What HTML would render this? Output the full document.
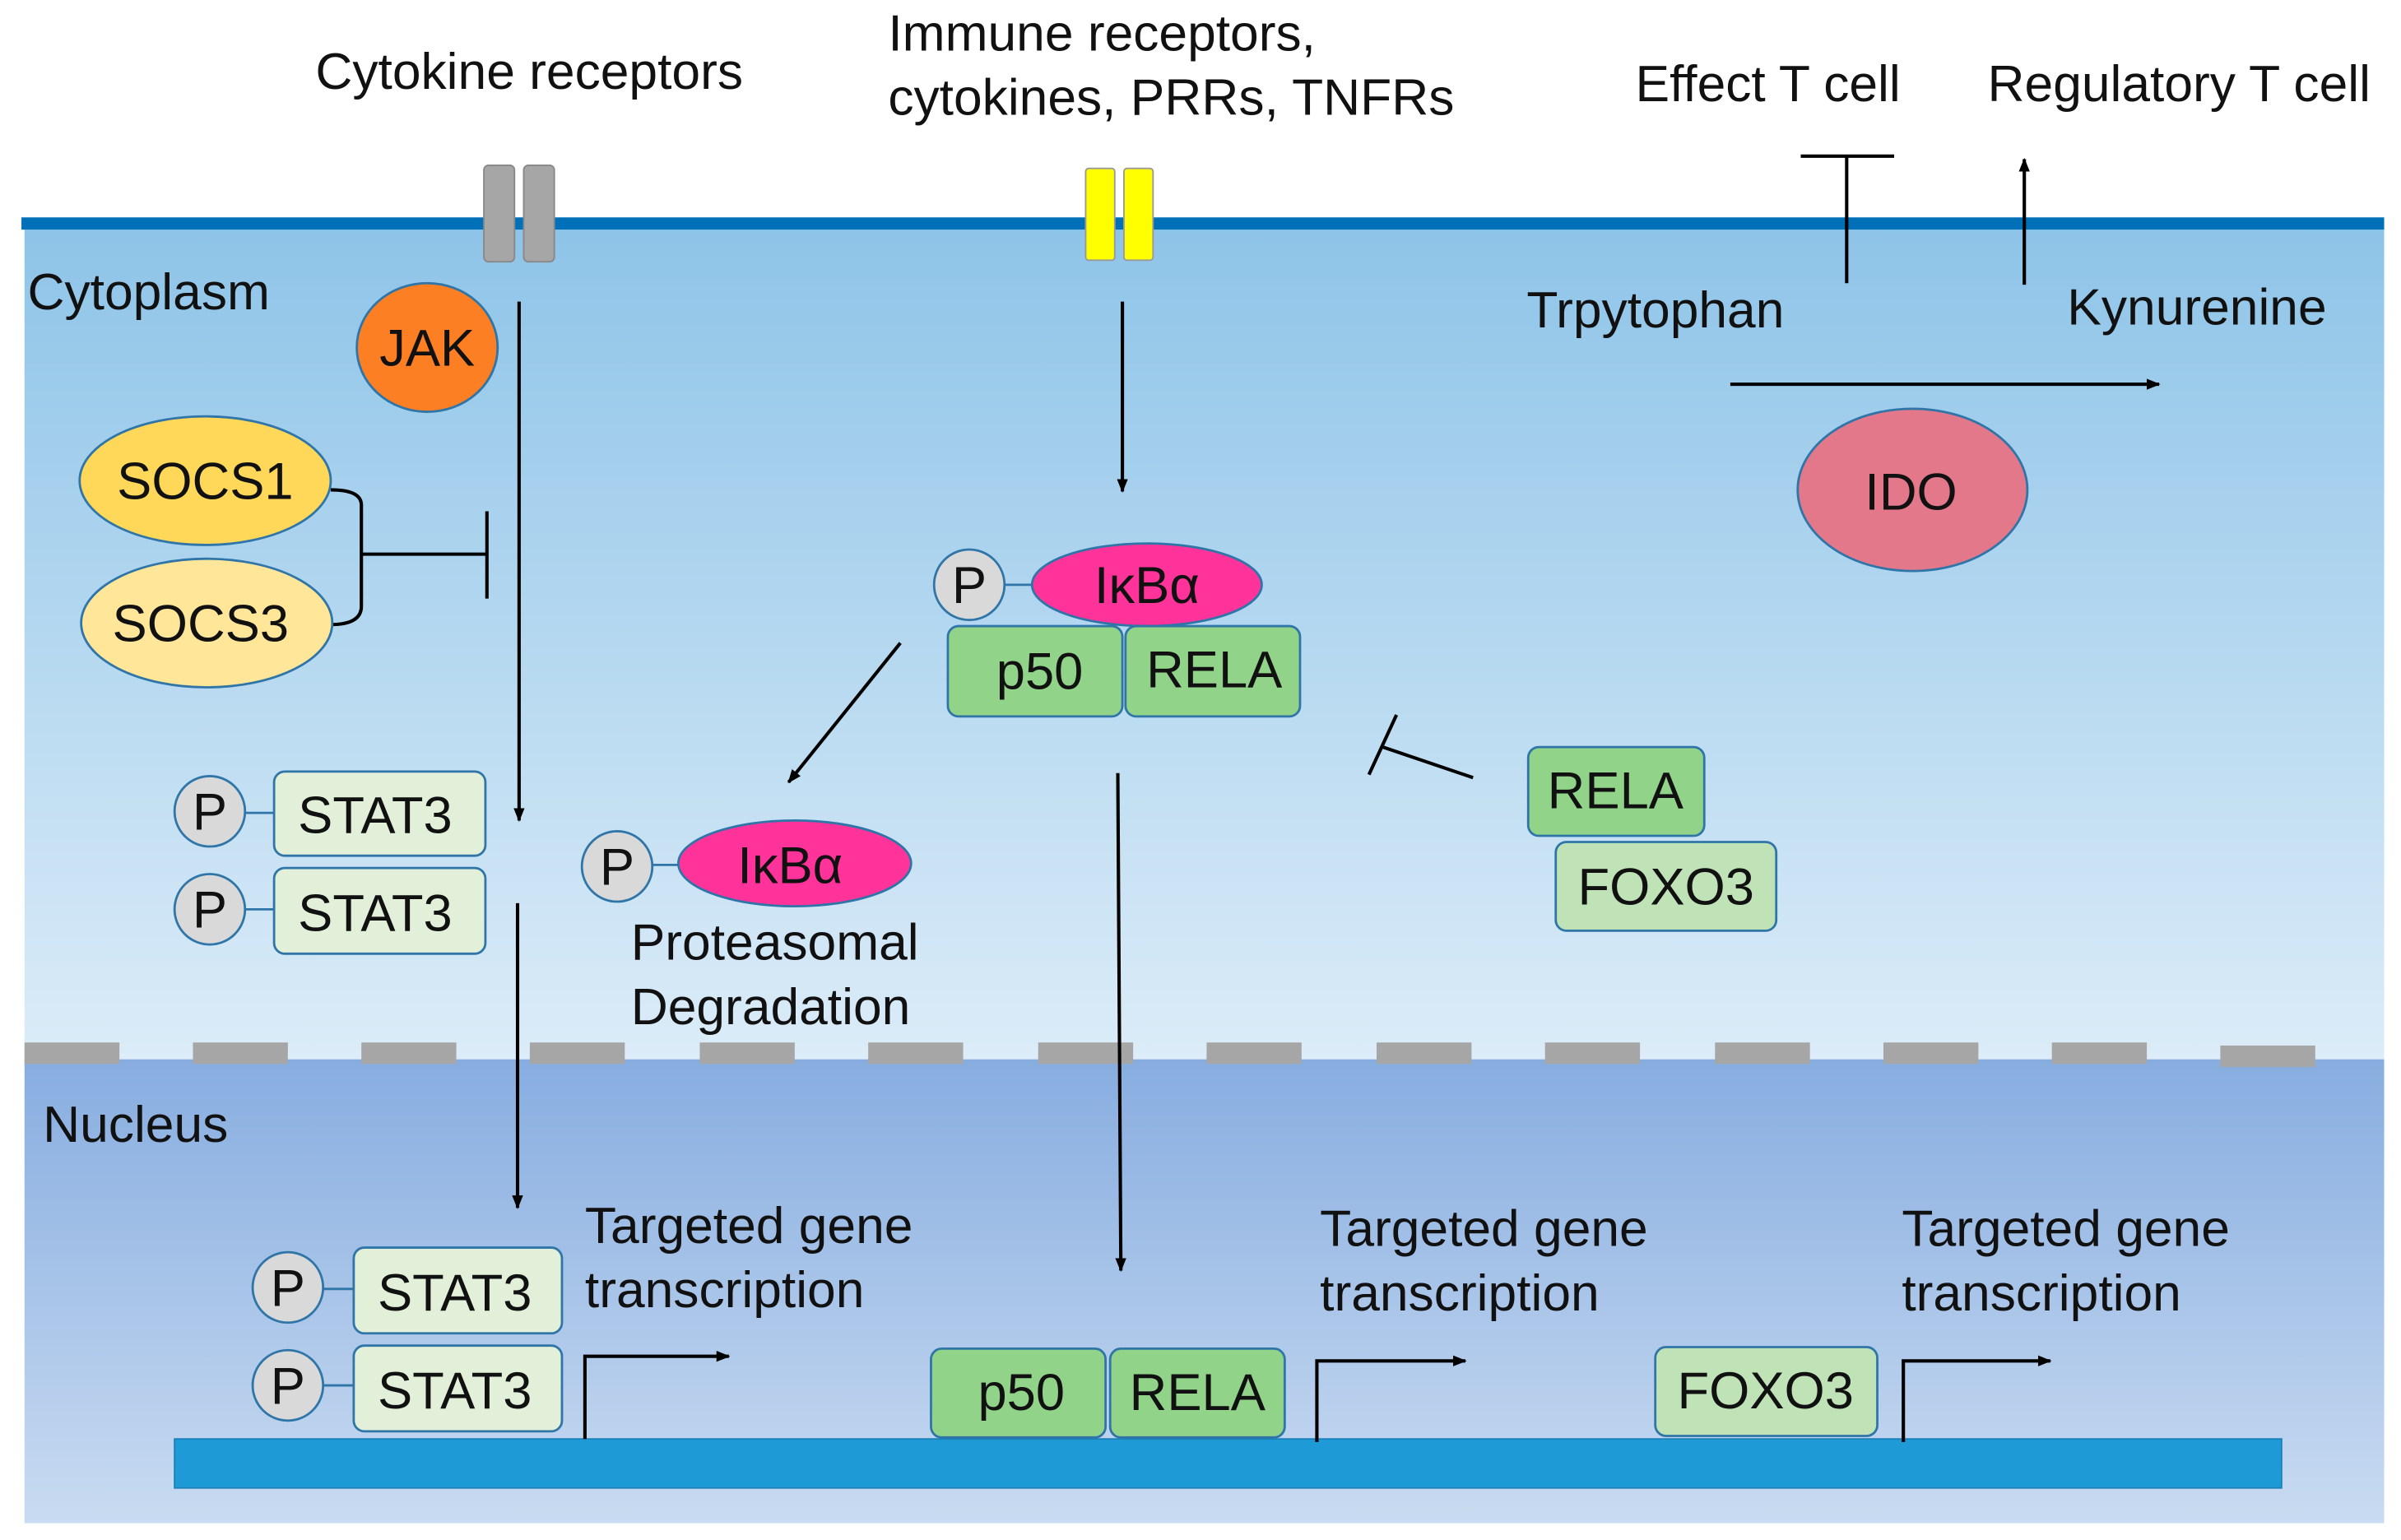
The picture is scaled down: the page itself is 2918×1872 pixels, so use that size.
<!DOCTYPE html>
<html><head><meta charset="utf-8"><style>html,body{margin:0;padding:0;background:#fff}svg{display:block}text{font-family:"Liberation Sans",sans-serif;fill:#111}</style></head>
<body>
<svg width="2918" height="1872" viewBox="0 0 1568 1006" preserveAspectRatio="none" xmlns="http://www.w3.org/2000/svg">
<defs>
<linearGradient id="cy" x1="0" y1="0" x2="0" y2="1"><stop offset="0" stop-color="#8ec4e8"/><stop offset="1" stop-color="#dcecf8"/></linearGradient>
<linearGradient id="nu" x1="0" y1="0" x2="0" y2="1"><stop offset="0" stop-color="#87ade0"/><stop offset="1" stop-color="#c9dbf1"/></linearGradient>
<marker id="ar" viewBox="0 0 10 10" refX="9" refY="5" markerWidth="9" markerHeight="9" markerUnits="userSpaceOnUse" orient="auto"><path d="M0,1 L10,5 L0,9 z" fill="#000"/></marker>
</defs>
<rect x="16" y="150" width="1541" height="542" fill="url(#cy)"/>
<rect x="16" y="692" width="1541" height="303" fill="url(#nu)"/>
<rect x="14" y="142" width="1543" height="8" fill="#0070b8"/>
<g fill="#a6a6a6">
<rect x="16" y="681" width="62" height="14"/><rect x="126" y="681" width="62" height="14"/><rect x="236" y="681" width="62" height="14"/><rect x="346" y="681" width="62" height="14"/><rect x="457" y="681" width="62" height="14"/><rect x="567" y="681" width="62" height="14"/><rect x="678" y="681" width="62" height="14"/><rect x="788" y="681" width="62" height="14"/><rect x="899" y="681" width="62" height="14"/><rect x="1009" y="681" width="62" height="14"/><rect x="1120" y="681" width="62" height="14"/><rect x="1230" y="681" width="62" height="14"/><rect x="1340" y="681" width="62" height="14"/><rect x="1450" y="683" width="62" height="14"/>
</g>
<rect x="114" y="940" width="1376" height="32" fill="#1e9bd7" stroke="#1a80b8"/>
<rect x="316" y="108" width="20" height="63" rx="3" fill="#a6a6a6" stroke="#888"/>
<rect x="342" y="108" width="20" height="63" rx="3" fill="#a6a6a6" stroke="#888"/>
<rect x="709" y="110" width="19" height="60" rx="2" fill="#ffff00" stroke="#999"/>
<rect x="734" y="110" width="19" height="60" rx="2" fill="#ffff00" stroke="#999"/>
<g font-size="33.5">
<text x="206" y="58">Cytokine receptors</text>
<text x="580" y="33">Immune receptors,</text>
<text x="580" y="75">cytokines, PRRs, TNFRs</text>
<text x="1068" y="66">Effect T cell</text>
<text x="1298" y="66">Regulatory T cell</text>
<text x="18" y="202">Cytoplasm</text>
<text x="28" y="746">Nucleus</text>
<text x="997" y="214">Trpytophan</text>
<text x="1350" y="212">Kynurenine</text>
</g>
<g stroke="#000" stroke-width="2.2" fill="none">
<line x1="1176" y1="102" x2="1237" y2="102"/><line x1="1206" y1="102" x2="1206" y2="185"/>
<line x1="1322" y1="186" x2="1322" y2="104" marker-end="url(#ar)"/>
<line x1="1130" y1="251" x2="1410" y2="251" marker-end="url(#ar)"/>
<line x1="339" y1="197" x2="339" y2="536" marker-end="url(#ar)"/>
<path d="M216,320 Q236,320 236,330 L236,396 Q236,408 216,408"/>
<path d="M236,362 L318,362"/><line x1="318" y1="334" x2="318" y2="391"/>
<line x1="733" y1="197" x2="733" y2="321" marker-end="url(#ar)"/>
<line x1="588" y1="420" x2="515" y2="511" marker-end="url(#ar)"/>
<line x1="962" y1="508" x2="903" y2="488"/><line x1="894" y1="506" x2="912" y2="467"/>
<line x1="338" y1="590" x2="338" y2="789" marker-end="url(#ar)"/>
<line x1="730" y1="505" x2="732" y2="830" marker-end="url(#ar)"/>
<path d="M382,940 L382,886 L476,886" marker-end="url(#ar)"/>
<path d="M860,942 L860,889 L957,889" marker-end="url(#ar)"/>
<path d="M1243,942 L1243,889 L1339,889" marker-end="url(#ar)"/>
</g>
<ellipse cx="279" cy="227" rx="46" ry="42" fill="#fd7f24" stroke="#2f75a8" stroke-width="1.5"/>
<ellipse cx="134" cy="314" rx="82" ry="42" fill="#ffd85a" stroke="#2f75a8" stroke-width="1.5"/>
<ellipse cx="135" cy="407" rx="82" ry="42" fill="#ffe699" stroke="#2f75a8" stroke-width="1.5"/>
<g stroke="#2f75a8" stroke-width="1.5">
<line x1="158" y1="531" x2="180" y2="531"/><line x1="158" y1="594" x2="180" y2="594"/>
<line x1="210" y1="842" x2="232" y2="842"/><line x1="210" y1="905" x2="232" y2="905"/>
<line x1="656" y1="382" x2="678" y2="382"/><line x1="426" y1="565" x2="448" y2="565"/>
</g>
<g stroke="#2f75a8" stroke-width="1.5">
<circle cx="137" cy="530" r="23" fill="#d9d9d9"/><circle cx="137" cy="594" r="23" fill="#d9d9d9"/>
<rect x="179" y="504" width="138" height="55" rx="7" fill="#e2f0d9"/><rect x="179" y="567" width="138" height="56" rx="7" fill="#e2f0d9"/>
<circle cx="188" cy="841" r="23" fill="#d9d9d9"/><circle cx="188" cy="905" r="23" fill="#d9d9d9"/>
<rect x="231" y="815" width="136" height="56" rx="7" fill="#e2f0d9"/><rect x="231" y="879" width="136" height="56" rx="7" fill="#e2f0d9"/>
<circle cx="633" cy="382" r="23" fill="#d9d9d9"/><circle cx="403" cy="566" r="23" fill="#d9d9d9"/>
<ellipse cx="749" cy="382" rx="75" ry="27" fill="#ff3399"/>
<ellipse cx="519" cy="564" rx="76" ry="28" fill="#ff3399"/>
<rect x="619" y="409" width="114" height="59" rx="7" fill="#92d38a"/><rect x="735" y="409" width="114" height="59" rx="7" fill="#92d38a"/>
<rect x="608" y="881" width="114" height="58" rx="7" fill="#92d38a"/><rect x="725" y="881" width="114" height="58" rx="7" fill="#92d38a"/>
<rect x="998" y="488" width="115" height="58" rx="7" fill="#92d38a"/>
<rect x="1016" y="550" width="144" height="58" rx="7" fill="#bfe3b6"/>
<rect x="1081" y="880" width="145" height="58" rx="7" fill="#bfe3b6"/>
<ellipse cx="1249" cy="320" rx="75" ry="53" fill="#e3788a"/>
</g>
<g font-size="34" text-anchor="middle">
<text x="279" y="239">JAK</text><text x="134" y="326">SOCS1</text><text x="131" y="419">SOCS3</text>
<text x="137" y="542">P</text><text x="137" y="606">P</text><text x="188" y="853">P</text><text x="188" y="917">P</text><text x="633" y="394">P</text><text x="403" y="578">P</text>
<text x="245" y="544">STAT3</text><text x="245" y="608">STAT3</text><text x="297" y="856">STAT3</text><text x="297" y="920">STAT3</text>
<text x="749" y="394">IκBα</text><text x="516" y="577">IκBα</text>
<text x="679" y="450">p50</text><text x="793" y="449">RELA</text>
<text x="667" y="921">p50</text><text x="782" y="921">RELA</text>
<text x="1055" y="528">RELA</text><text x="1088" y="591">FOXO3</text><text x="1153" y="920">FOXO3</text>
<text x="1248" y="333">IDO</text>
</g>
<g font-size="33.5">
<text x="412" y="627">Proteasomal</text><text x="412" y="669">Degradation</text>
<text x="382" y="812">Targeted gene</text><text x="382" y="854">transcription</text>
<text x="862" y="814">Targeted gene</text><text x="862" y="856">transcription</text>
<text x="1242" y="814">Targeted gene</text><text x="1242" y="856">transcription</text>
</g>
</svg>
</body></html>
